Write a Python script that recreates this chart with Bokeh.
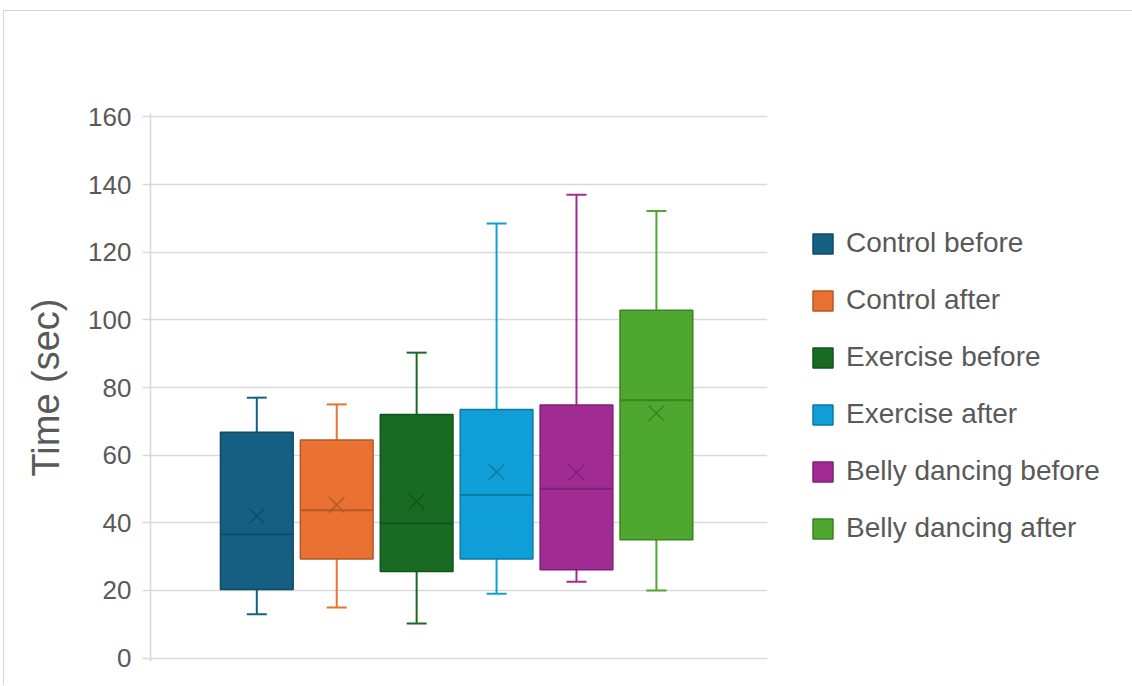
from bokeh.plotting import figure
from bokeh.models import Range1d, FixedTicker, Legend, LegendItem, ColumnDataSource
from bokeh.embed import file_html
from bokeh.resources import INLINE

# ---- data ----
categories = ["Control before", "Control after", "Exercise before",
              "Exercise after", "Belly dancing before", "Belly dancing after"]
mins    = [13.0, 15.0, 10.2, 19.0, 22.6, 20.0]
q1      = [20.3, 29.3, 25.6, 29.3, 26.1, 35.0]
medians = [36.6, 43.7, 39.9, 48.2, 50.1, 76.2]
q3      = [66.8, 64.5, 72.0, 73.5, 74.8, 102.8]
maxs    = [77.0, 75.0, 90.3, 128.5, 137.0, 132.2]
means   = [42.0, 45.3, 46.3, 55.0, 54.9, 72.4]
y_ticks = [0, 20, 40, 60, 80, 100, 120, 140, 160]

colors = ["#156082", "#E97132", "#196B24", "#0F9ED5", "#A02B93", "#4EA72E"]


def darker(h, f=0.78):
    h = h.lstrip("#")
    r, g, b = (int(h[i:i + 2], 16) for i in (0, 2, 4))
    return "#%02x%02x%02x" % (int(r * f), int(g * f), int(b * f))


dark = [darker(c) for c in colors]
xs = list(range(len(categories)))
BOX_W = 0.91
CAP_W = 0.25

FONT = "Liberation Sans"
TXT = "#595959"
GRID = "#d9d9d9"

p = figure(frame_width=617, frame_height=548, output_backend="svg", toolbar_location=None,
           x_range=Range1d(-1.33, 6.39), y_range=Range1d(-1, 161),
           x_axis_location=None, min_border_left=146, min_border_right=0,
           min_border_top=102, min_border_bottom=24)
p.outline_line_color = None
p.background_fill_color = "white"
p.border_fill_color = "white"
p.styles = {"margin-left": "3px", "margin-top": "10px",
            "border-top": "1px solid #d6d6d6", "border-left": "1px solid #d6d6d6"}

for g in p.grid:
    if g.dimension == 0:
        g.grid_line_color = None
    else:
        g.grid_line_color = GRID
        g.grid_line_width = 1.6

ax = p.yaxis[0]
ax.ticker = FixedTicker(ticks=y_ticks)
ax.major_label_text_font = FONT
ax.major_label_text_font_size = "26px"
ax.major_label_text_color = TXT
ax.major_label_standoff = 11
ax.major_tick_out = 8
ax.major_tick_in = 0
ax.major_tick_line_color = GRID
ax.major_tick_line_width = 1.6
ax.minor_tick_line_color = None
ax.axis_line_color = GRID
ax.axis_line_width = 1.6
ax.axis_label = "Time (sec)"
ax.axis_label_text_font = FONT
ax.axis_label_text_font_size = "38px"
ax.axis_label_text_font_style = "normal"
ax.axis_label_text_color = TXT
ax.axis_label_standoff = 18

src = ColumnDataSource(dict(
    x=xs, cat=categories, mins=mins, q1=q1, med=medians, q3=q3, maxs=maxs,
    mean=means, color=colors, dark=dark,
    cl=[x - CAP_W / 2 for x in xs], cr=[x + CAP_W / 2 for x in xs],
    bl=[x - BOX_W / 2 for x in xs], br=[x + BOX_W / 2 for x in xs],
))

# whiskers
p.segment(x0="x", y0="q3", x1="x", y1="maxs", source=src, line_color="color", line_width=2)
p.segment(x0="x", y0="q1", x1="x", y1="mins", source=src, line_color="color", line_width=2)
p.segment(x0="cl", y0="maxs", x1="cr", y1="maxs", source=src, line_color="color", line_width=2)
p.segment(x0="cl", y0="mins", x1="cr", y1="mins", source=src, line_color="color", line_width=2)

items = []
for i, cat in enumerate(categories):
    r = p.vbar(x=[xs[i]], width=BOX_W, bottom=[q1[i]], top=[q3[i]],
               fill_color=colors[i], line_color=dark[i], line_width=1.5)
    items.append(LegendItem(label=cat, renderers=[r]))

# medians
p.segment(x0="bl", y0="med", x1="br", y1="med", source=src, line_color="dark", line_width=2)
# means
p.scatter(x="x", y="mean", source=src, marker="x", size=22,
          line_color="dark", line_width=1.4)

legend = Legend(items=items, location=(43, 117), orientation="vertical",
                glyph_width=25, glyph_height=25, label_height=25, spacing=25,
                label_standoff=11, label_text_font=FONT, label_text_font_size="28px",
                label_text_color=TXT, label_text_baseline="middle",
                padding=0, margin=0, border_line_alpha=0, background_fill_alpha=0)
p.add_layout(legend, "right")

open("out.html", "w").write(file_html(p, INLINE))
